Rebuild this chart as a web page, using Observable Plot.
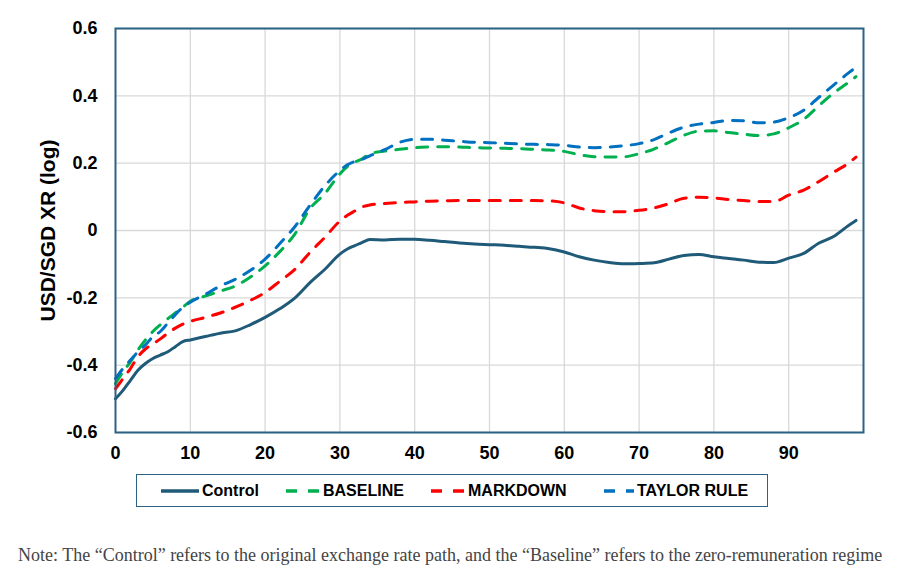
<!DOCTYPE html>
<html>
<head>
<meta charset="utf-8">
<script src="https://cdn.jsdelivr.net/npm/d3@7"></script>
<script src="https://cdn.jsdelivr.net/npm/@observablehq/plot@0.6"></script>
<style>
  html, body { margin: 0; padding: 0; background: #fff; }
  #wrap { position: relative; width: 915px; height: 571px; overflow: hidden; font-family: "Liberation Sans", Arial, sans-serif; }
  #chart { position: absolute; left: 0; top: 0; }
  #legend { position: absolute; left: 136px; top: 474px; width: 630px; height: 31px; border: 1.5px solid #2b6384; box-sizing: content-box; }
  .item { position: absolute; top: 0; height: 31px; display: flex; align-items: center; font-weight: bold; font-size: 16px; color: #000; white-space: nowrap; }
  .item svg { margin-right: 3px; }
  #note { position: absolute; left: 18px; top: 545px; font-family: "Liberation Serif", "Times New Roman", serif; font-size: 18px; color: #444; white-space: nowrap; }
</style>
</head>
<body>
<div id="wrap">
  <div id="chart"></div>
  <div id="legend"></div>
  <div id="note">Note: The “Control” refers to the original exchange rate path, and the “Baseline” refers to the zero-remuneration regime</div>
</div>
<script>
// ---- data ----
const periods = [0,1,2,3,4,5,6,7,8,9,10,12,14,16,18,20,22,24,26,28,30,31,32,33,34,36,38,40,42,44,46,48,50,52,54,56,58,60,62,64,66,68,70,72,74,76,78,80,82,84,86,88,90,92,94,96,98,99];

const control = [-0.50,-0.475,-0.445,-0.415,-0.395,-0.38,-0.37,-0.36,-0.345,-0.33,-0.325,-0.315,-0.305,-0.298,-0.28,-0.258,-0.232,-0.20,-0.155,-0.115,-0.07,-0.055,-0.045,-0.035,-0.027,-0.028,-0.026,-0.026,-0.029,-0.033,-0.037,-0.040,-0.042,-0.044,-0.047,-0.050,-0.054,-0.064,-0.078,-0.088,-0.095,-0.099,-0.098,-0.096,-0.085,-0.074,-0.071,-0.078,-0.083,-0.088,-0.094,-0.095,-0.082,-0.068,-0.038,-0.018,0.015,0.03];

const baseline = [-0.455,-0.42,-0.39,-0.355,-0.325,-0.30,-0.28,-0.262,-0.245,-0.228,-0.21,-0.195,-0.18,-0.165,-0.139,-0.105,-0.062,-0.01,0.065,0.11,0.168,0.19,0.203,0.213,0.228,0.236,0.241,0.246,0.248,0.249,0.248,0.246,0.245,0.244,0.243,0.241,0.239,0.235,0.225,0.219,0.218,0.219,0.228,0.242,0.262,0.283,0.295,0.296,0.291,0.286,0.282,0.287,0.305,0.33,0.37,0.408,0.44,0.457];

const markdown = [-0.47,-0.44,-0.41,-0.375,-0.352,-0.337,-0.322,-0.305,-0.29,-0.278,-0.27,-0.258,-0.245,-0.228,-0.208,-0.184,-0.15,-0.115,-0.065,-0.02,0.028,0.045,0.058,0.07,0.076,0.08,0.083,0.085,0.087,0.088,0.089,0.089,0.089,0.089,0.089,0.089,0.088,0.082,0.067,0.059,0.056,0.056,0.06,0.067,0.08,0.096,0.099,0.097,0.092,0.089,0.086,0.086,0.105,0.12,0.145,0.173,0.20,0.218];

const taylor = [-0.44,-0.41,-0.385,-0.36,-0.34,-0.315,-0.30,-0.275,-0.25,-0.228,-0.213,-0.19,-0.165,-0.145,-0.119,-0.085,-0.038,0.012,0.075,0.133,0.178,0.195,0.205,0.212,0.222,0.24,0.262,0.271,0.271,0.268,0.265,0.262,0.261,0.259,0.257,0.256,0.255,0.253,0.248,0.246,0.248,0.252,0.258,0.27,0.29,0.307,0.316,0.321,0.327,0.326,0.32,0.322,0.335,0.357,0.395,0.432,0.468,0.485];

const seriesNames = ["Control", "BASELINE", "MARKDOWN", "TAYLOR RULE"];
const seriesValues = [control, baseline, markdown, taylor];
const seriesColors = ["#1f5a78", "#00b050", "#ff0000", "#0070c0"];
const seriesDash = [null, "11,10", "11,10", "11,10"];

const xTicks = [0,10,20,30,40,50,60,70,80,90];
const yTicks = [-0.6,-0.4,-0.2,0,0.2,0.4,0.6];
const yLabel = "USD/SGD XR (log)";

// ---- build table ----
const rows = [];
seriesNames.forEach((name, s) => {
  periods.forEach((p, i) => rows.push({series: name, period: p, value: seriesValues[s][i]}));
});

const marks = [
  Plot.gridX([10,20,30,40,50,60,70,80,90], {stroke: "#d9d9d9", strokeOpacity: 1, strokeWidth: 1.3}),
  Plot.gridY(yTicks, {stroke: "#d9d9d9", strokeOpacity: 1, strokeWidth: 1.3}),
  Plot.axisX({ticks: xTicks, tickSize: 0, tickPadding: 14, fontSize: 18, fontWeight: "bold", tickFormat: d => String(d), label: null}),
  Plot.axisY({ticks: yTicks, tickSize: 0, tickPadding: 18, fontSize: 18, fontWeight: "bold", tickFormat: d => d === 0 ? "0" : d.toFixed(1), label: null}),
  Plot.text([yLabel], {frameAnchor: "left", dx: -67, rotate: -90, text: d => d, fontSize: 21, fontWeight: "bold", fill: "#000", textAnchor: "middle"})
];
seriesNames.forEach((name, s) => {
  marks.push(Plot.line(rows.filter(r => r.series === name), {
    x: "period", y: "value",
    stroke: seriesColors[s], strokeWidth: 3,
    strokeDasharray: seriesDash[s] || undefined,
    curve: "monotone-x"
  }));
});
marks.push(Plot.frame({stroke: "#2b6384", strokeWidth: 2}));

const chart = Plot.plot({
  width: 915,
  height: 470,
  marginLeft: 115,
  marginRight: 52,
  marginTop: 28,
  marginBottom: 38,
  style: {fontFamily: "'Liberation Sans', Arial, sans-serif", color: "#000", background: "#fff"},
  x: {domain: [0, 100]},
  y: {domain: [-0.6, 0.6]},
  marks
});
document.getElementById("chart").appendChild(chart);

// ---- legend ----
const legendPos = [[24, 38], [149, 34], [294, 34], [467, 30]];
const legend = document.getElementById("legend");
seriesNames.forEach((name, s) => {
  const item = document.createElement("div");
  item.className = "item";
  item.style.left = legendPos[s][0] + "px";
  const w = legendPos[s][1];
  const dash = seriesDash[s] ? `stroke-dasharray="11,11"` : "";
  item.innerHTML = `<svg width="${w}" height="10"><line x1="0" y1="5" x2="${w}" y2="5" stroke="${seriesColors[s]}" stroke-width="3.5" ${dash}/></svg><span>${name}</span>`;
  legend.appendChild(item);
});
</script>
</body>
</html>
